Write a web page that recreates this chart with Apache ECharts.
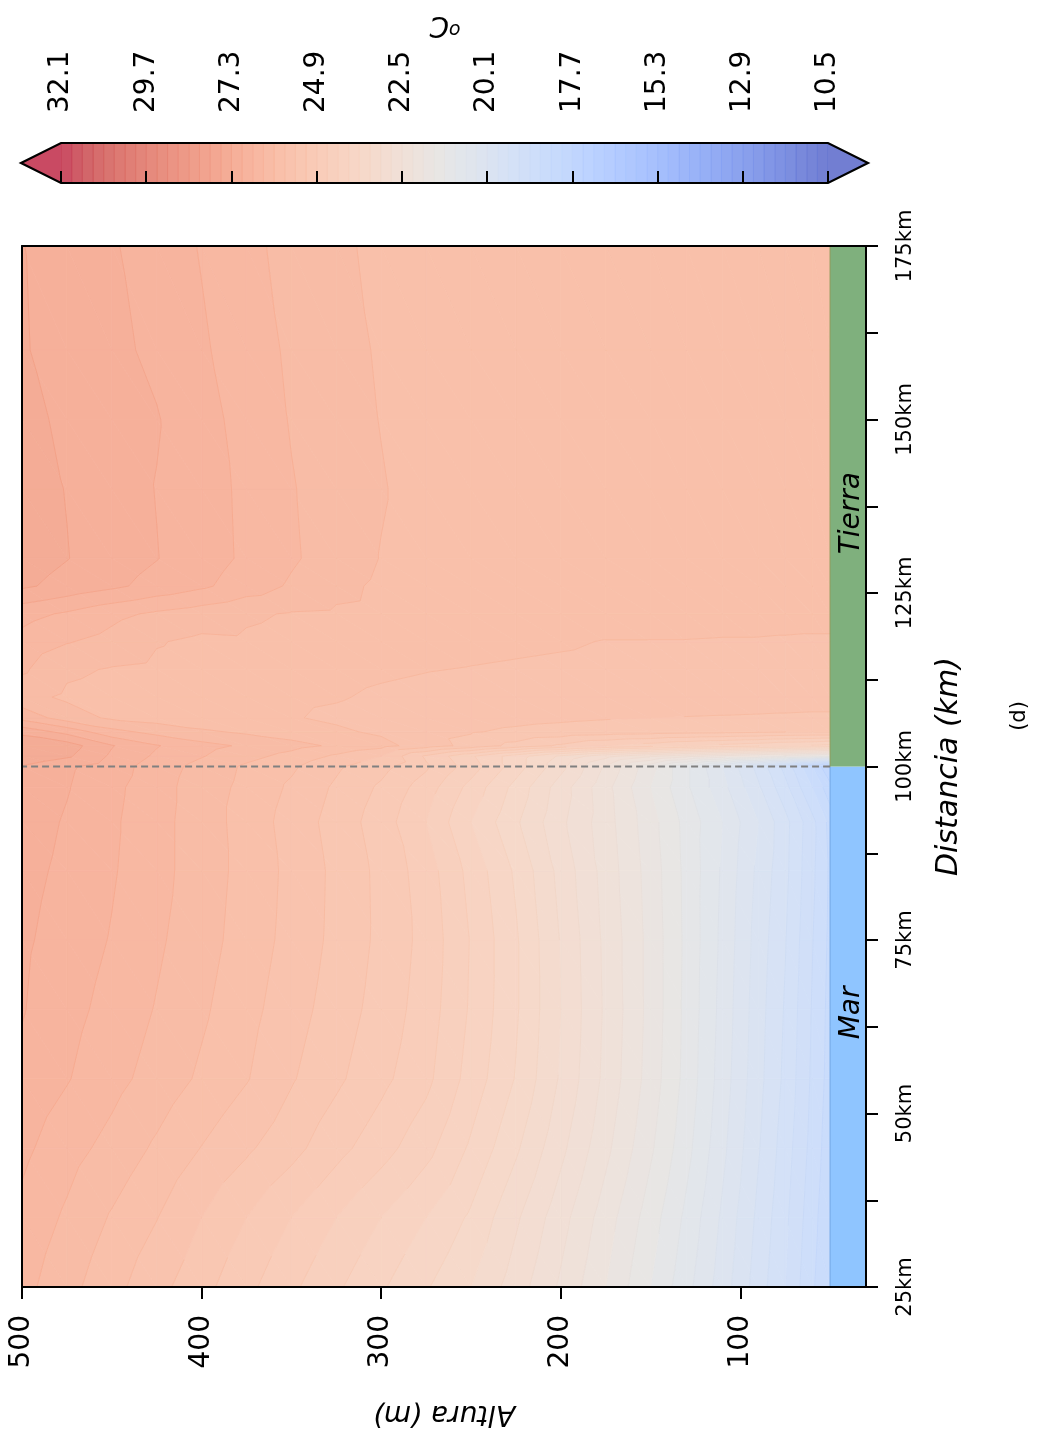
<!DOCTYPE html>
<html><head><meta charset="utf-8">
<script src="https://cdn.jsdelivr.net/npm/echarts@6/dist/echarts.min.js"></script>
<style>html,body{margin:0;padding:0;background:#fff;}#c{width:1041px;height:1432px;}</style>
</head><body><div id="c"></div><script>
// ---------------- data ----------------
const distanceKm = [25,35,45,55,65,75,85,92,97,100,101.5,103,105,107,110,114,118,122,126,130,140,150,160,175];
const altitudeM = [50,60,75,90,110,130,150,175,200,225,250,275,300,325,350,375,400,425,450,475,500];
// temperature (°C) per altitude row, one value per distance column
const t050 = [18.3,18.35,18.42,18.48,18.5,18.53,18.55,18.5,18.1, 17.7,21.5,23.9,25.2,25.45,25.62,25.68,25.76,25.9, 25.93,25.94,25.95,25.95,25.94,25.93];
const t060 = [18.65,18.72,18.8,18.85,18.88,18.92,18.97,19.0,18.6, 18.3,21.6,23.95,25.2,25.45,25.62,25.68,25.76,25.9, 25.93,25.94,25.95,25.95,25.94,25.93];
const t075 = [19.2,19.27,19.35,19.43,19.47,19.52,19.58,19.6,19.3, 19.1,21.75,24.0,25.22,25.46,25.63,25.69,25.77,25.9, 25.93,25.94,25.95,25.95,25.94,25.93];
const t090 = [19.65,19.73,19.83,19.9,19.93,19.97,20.03,20.1,19.85, 19.7,21.9,24.1,25.25,25.47,25.63,25.7,25.78,25.9, 25.93,25.94,25.95,25.95,25.94,25.93];
const t110 = [20.25,20.35,20.48,20.56,20.6,20.63,20.66,20.7,20.5, 20.4,22.1,24.2,25.28,25.48,25.64,25.7,25.78,25.91, 25.93,25.94,25.95,25.95,25.94,25.93];
const t130 = [20.8,20.93,21.1,21.2,21.22,21.23,21.22,21.2,21.05, 21.05,22.3,24.3,25.3,25.49,25.64,25.71,25.79,25.92, 25.94,25.94,25.95,25.95,25.94,25.94];
const t150 = [21.3,21.45,21.65,21.77,21.8,21.8,21.77,21.72,21.6, 21.7,22.55,24.45,25.33,25.5,25.65,25.72,25.79,25.93, 25.94,25.95,25.95,25.95,25.95,25.94];
const t175 = [21.9,22.05,22.28,22.42,22.45,22.43,22.38,22.33,22.3, 22.45,22.9,24.6,25.36,25.52,25.66,25.73,25.79,25.94, 25.95,25.95,25.96,25.96,25.95,25.95];
const t200 = [22.45,22.62,22.88,23.06,23.1,23.08,23.0,22.87,22.95, 23.2,23.35,24.85,25.4,25.55,25.67,25.75,25.83,25.95, 25.96,25.96,25.96,25.96,25.96,25.95];
const t225 = [22.95,23.15,23.45,23.68,23.74,23.74,23.65,23.45,23.6, 23.85,23.85,25.1,25.45,25.58,25.68,25.77,25.85,25.96, 25.97,25.97,25.97,25.97,25.96,25.96];
const t250 = [23.4,23.65,23.95,24.18,24.26,24.28,24.2,24.0,24.2, 24.45,24.35,25.4,25.52,25.62,25.7,25.79,25.87,25.98, 25.97,25.98,25.98,25.97,25.97,25.96];
const t275 = [23.73,24.0,24.4,24.68,24.76,24.8,24.75,24.6,24.75, 24.95,24.85,25.65,25.6,25.66,25.73,25.81,25.9,26.0, 25.98,25.99,25.99,25.98,25.97,25.96];
const t300 = [24.04,24.3,24.72,24.98,25.08,25.13,25.12,25.05,25.15, 25.3,25.5,25.9,25.75,25.7,25.76,25.84,25.93,26.03, 26.05,26.09,26.12,26.09,26.07,26.04];
const t325 = [24.35,24.6,25.0,25.26,25.36,25.42,25.43,25.38,25.45, 25.55,25.75,26.05,25.85,25.75,25.82,25.88,25.97,26.06, 26.18,26.26,26.25,26.23,26.2,26.15];
const t350 = [24.66,24.9,25.3,25.53,25.63,25.7,25.72,25.68,25.75, 25.85,26.0,26.2,25.95,25.82,25.85,25.92,26.02,26.08, 26.36,26.44,26.42,26.38,26.35,26.3];
const t375 = [24.98,25.2,25.55,25.82,25.9,25.97,26.0,25.98,26.02, 26.05,26.2,26.35,26.05,25.85,25.88,25.96,26.06,26.14, 26.56,26.65,26.64,26.6,26.55,26.48];
const t400 = [25.3,25.5,25.79,26.05,26.15,26.22,26.25,26.25,26.25, 26.3,26.42,26.5,26.15,25.9,25.92,26.0,26.04,26.25, 26.75,26.83,26.82,26.8,26.74,26.68];
const t425 = [25.6,25.81,26.05,26.28,26.38,26.45,26.5,26.5,26.52, 26.55,26.65,26.72,26.3,25.97,25.96,26.04,26.12,26.35, 26.9,27.01,26.99,27.02,26.93,26.86];
const t450 = [25.9,26.07,26.3,26.5,26.6,26.68,26.73,26.75,26.78, 26.85,26.95,27.02,26.5,26.05,26.0,26.08,26.3,26.48, 27.06,27.15,27.15,27.13,27.08,27.03];
const t475 = [26.2,26.35,26.52,26.72,26.8,26.87,26.93,26.97,27.02, 27.05,27.35,27.45,26.9,26.25,26.05,26.15,26.42,26.66, 27.2,27.31,27.29,27.26,27.21,27.16];
const t500 = [26.5,26.62,26.77,26.92,27.02,27.05,27.1,27.15,27.2, 27.28,27.55,27.6,27.2,26.6,26.2,26.45,26.6,26.8, 27.35,27.45,27.42,27.36,27.32,27.31];
const tempRows = [t050,t060,t075,t090,t110,t130,t150,t175,t200,t225,t250,t275,t300,t325,t350,t375,t400,t425,t450,t475,t500];

const colorbarTicks = [32.1,29.7,27.3,24.9,22.5,20.1,17.7,15.3,12.9,10.5];
const altitudeTicks = [100,200,300,400,500];
const distanceLabelTicks = [25,50,75,100,125,150,175];
const distanceMinorTicks = [25,37.5,50,62.5,75,87.5,100,112.5,125,137.5,150,162.5,175];
const surfaceNames = ['Mar','Tierra'];
const surfaceFromKm = [25,100];
const surfaceToKm = [100,175];
const surfaceLabelKm = [64.5,136.5];
const coastKm = 100;

// ---------------- colour scale ----------------
const LEVEL_MIN = 10.5, LEVEL_MAX = 32.1, LEVEL_STEP = 0.3;
const NBANDS = Math.round((LEVEL_MAX - LEVEL_MIN) / LEVEL_STEP); // 72
function levelAt(k){ return Math.round((LEVEL_MIN + k*LEVEL_STEP)*1000)/1000; }
const CW = [[0.2298057,0.298717966,0.753683153],[0.26623388,0.353094838,0.801466763],[0.30386891,0.406535296,0.84495867],[0.342804478,0.458757618,0.883725899],[0.38301334,0.50941904,0.917387822],[0.424369608,0.558148092,0.945619588],[0.46666708,0.604562568,0.968154911],[0.509635204,0.648280772,0.98478814],[0.552953156,0.688929332,0.995375608],[0.596262162,0.726149107,0.999836203],[0.639176211,0.759599947,0.998151185],[0.681291281,0.788964712,0.990363227],[0.722193294,0.813952739,0.976574709],[0.761464949,0.834302879,0.956945269],[0.798691636,0.849786142,0.931688648],[0.833466556,0.860207984,0.901068838],[0.865395197,0.86541021,0.865395561],[0.897787179,0.848937047,0.820880546],[0.924127593,0.827384882,0.774508472],[0.944468518,0.800927443,0.726736146],[0.958852946,0.769767752,0.678007945],[0.96732803,0.734132809,0.628751763],[0.969954137,0.694266682,0.579375448],[0.966811177,0.650421156,0.530263762],[0.958003065,0.602842431,0.481775914],[0.943660866,0.551750968,0.434243684],[0.923944917,0.49730856,0.387970225],[0.89904617,0.439559467,0.343229596],[0.869186849,0.378313092,0.300267182],[0.834620542,0.312874446,0.259301199],[0.795631745,0.24128379,0.220525627],[0.752534934,0.157246067,0.184115123],[0.705673158,0.01555616,0.150232812]];
function coolwarm(t){
  t = Math.max(0, Math.min(1, t));
  const f = t*32, i = Math.min(31, Math.floor(f)), r = f - i;
  const a = CW[i], b = CW[i+1];
  return [a[0]+(b[0]-a[0])*r, a[1]+(b[1]-a[1])*r, a[2]+(b[2]-a[2])*r];
}
function blend(c, alpha){
  const v = c.map(x => Math.round(255*(x*alpha + (1-alpha))));
  return 'rgb(' + v.join(',') + ')';
}
const FILL_ALPHA = 0.72, LINE_ALPHA = 0.86;
const bandFill = [], bandLine = [];
for (let k = 0; k < NBANDS; k++){
  const c = coolwarm((k+0.5)/NBANDS);
  bandFill.push(blend(c, FILL_ALPHA));
  bandLine.push(blend(c, LINE_ALPHA));
}
const underFill = blend(coolwarm(0), FILL_ALPHA), overFill = blend(coolwarm(1), FILL_ALPHA);
function bandIndex(v){ return Math.floor((v - LEVEL_MIN)/LEVEL_STEP + 1e-9); }
function colorOfBand(k){ return k < 0 ? underFill : (k >= NBANDS ? overFill : bandFill[k]); }

// ---------------- contouring helpers ----------------
function clip(poly, lvl, above){
  const out = [];
  for (let i = 0; i < poly.length; i++){
    const a = poly[i], b = poly[(i+1) % poly.length];
    const ina = above ? a[2] >= lvl : a[2] <= lvl;
    const inb = above ? b[2] >= lvl : b[2] <= lvl;
    if (ina) out.push(a);
    if (ina !== inb){
      const t = (lvl - a[2])/(b[2] - a[2]);
      out.push([a[0]+t*(b[0]-a[0]), a[1]+t*(b[1]-a[1]), lvl]);
    }
  }
  return out;
}
function cellTriangles(i, j){
  const P = (ii, jj) => [altitudeM[ii], distanceKm[jj], tempRows[ii][jj]];
  const A = P(i,j), B = P(i,j+1), C = P(i+1,j+1), D = P(i+1,j);
  return [[A,B,C],[A,C,D]];
}
const cells = [];
for (let i = 0; i < altitudeM.length-1; i++)
  for (let j = 0; j < distanceKm.length-1; j++)
    cells.push([(altitudeM[i]+altitudeM[i+1])/2, (distanceKm[j]+distanceKm[j+1])/2, i, j]);

function renderFill(params, api){
  const d = cells[params.dataIndex];
  const children = [];
  cellTriangles(d[2], d[3]).forEach(tri => {
    const vs = tri.map(p => p[2]);
    const k0 = bandIndex(Math.min(...vs)), k1 = bandIndex(Math.max(...vs));
    for (let k = k0; k <= k1; k++){
      let poly = tri;
      if (k > k0) poly = clip(poly, levelAt(k), true);
      if (k < k1) poly = clip(poly, levelAt(k+1), false);
      if (poly.length < 3) continue;
      const pts = poly.map(p => api.coord([p[0], p[1]]));
      const col = colorOfBand(k);
      children.push({type:'polygon', shape:{points:pts}, style:{fill:col, stroke:col, lineWidth:0.8}, silent:true});
    }
  });
  return {type:'group', children};
}
function renderLines(params, api){
  const d = cells[params.dataIndex];
  const children = [];
  cellTriangles(d[2], d[3]).forEach(tri => {
    const vs = tri.map(p => p[2]);
    const k0 = bandIndex(Math.min(...vs)), k1 = bandIndex(Math.max(...vs));
    for (let k = k0+1; k <= k1; k++){
      const L = levelAt(k);
      const pts = [];
      for (let e = 0; e < 3; e++){
        const a = tri[e], b = tri[(e+1)%3];
        if ((a[2]-L)*(b[2]-L) < 0){
          const t = (L-a[2])/(b[2]-a[2]);
          pts.push(api.coord([a[0]+t*(b[0]-a[0]), a[1]+t*(b[1]-a[1])]));
        }
      }
      if (pts.length === 2){
        const c = coolwarm(Math.min(1, Math.max(0, k/NBANDS)));
        children.push({type:'line', shape:{x1:pts[0][0], y1:pts[0][1], x2:pts[1][0], y2:pts[1][1]}, style:{stroke:blend(c, LINE_ALPHA), lineWidth:0.8}, silent:true});
      }
    }
  });
  return {type:'group', children};
}

// ---------------- chart ----------------
const FONT = 'DejaVu Sans';
const chart = echarts.init(document.getElementById('c'), null, {renderer:'canvas'});
const bandData = [];
for (let k = 0; k < NBANDS; k++) bandData.push([levelAt(k), levelAt(k+1), k]);

const option = {
  backgroundColor:'#fff',
  animation:false,
  grid:[
    {left:22, top:246, width:844, height:1041, containLabel:false},
    {left:61, top:143, width:767, height:40, containLabel:false}
  ],
  xAxis:[
    {gridIndex:0, type:'value', min:30, max:500, inverse:true, position:'bottom', z:10,
     axisLine:{show:true, onZero:false, lineStyle:{color:'#000', width:2}},
     axisTick:{show:true, customValues:altitudeTicks, length:12, lineStyle:{color:'#000', width:2}},
     axisLabel:{show:true, customValues:altitudeTicks, rotate:90, margin:28, fontSize:28, color:'#000', fontFamily:FONT},
     splitLine:{show:false},
     name:'Altura (m)', nameLocation:'middle', nameGap:112, nameRotate:180,
     nameTextStyle:{fontSize:28, fontStyle:'italic', color:'#000', fontFamily:FONT}},
    {gridIndex:0, type:'value', min:30, max:500, inverse:true, position:'top', z:10,
     axisLine:{show:true, onZero:false, lineStyle:{color:'#000', width:2}},
     axisTick:{show:false}, axisLabel:{show:false}, splitLine:{show:false}},
    {gridIndex:1, type:'value', min:LEVEL_MIN, max:LEVEL_MAX, inverse:true, position:'top', z:10,
     axisLine:{show:false},
     axisTick:{show:true, customValues:colorbarTicks, length:12, lineStyle:{color:'#000', width:2}},
     axisLabel:{show:true, customValues:colorbarTicks, rotate:90, margin:30, fontSize:28, color:'#000', fontFamily:FONT,
       formatter:v => Number(v).toFixed(1)},
     splitLine:{show:false}}
  ],
  yAxis:[
    {gridIndex:0, type:'value', min:25, max:175, position:'right', z:10,
     axisLine:{show:true, onZero:false, lineStyle:{color:'#000', width:2}},
     axisTick:{show:true, customValues:distanceMinorTicks, length:12, lineStyle:{color:'#000', width:2}},
     axisLabel:{show:false},
     splitLine:{show:false},
     name:'Distancia (km)', nameLocation:'middle', nameGap:68, nameRotate:90,
     nameTextStyle:{fontSize:30, fontStyle:'italic', color:'#000', fontFamily:FONT}},
    {gridIndex:0, type:'value', min:25, max:175, position:'left', z:10,
     axisLine:{show:true, onZero:false, lineStyle:{color:'#000', width:2}},
     axisTick:{show:false}, axisLabel:{show:false}, splitLine:{show:false}},
    {gridIndex:1, type:'value', min:0, max:1, show:false}
  ],
  series:[
    {type:'custom', name:'fill', xAxisIndex:0, yAxisIndex:0, z:1, silent:true, clip:true,
     data:cells, encode:{x:0, y:1}, renderItem:renderFill},
    {type:'custom', name:'lines', xAxisIndex:0, yAxisIndex:0, z:2, silent:true, clip:true,
     data:cells, encode:{x:0, y:1}, renderItem:renderLines},
    {type:'custom', name:'surface', xAxisIndex:0, yAxisIndex:0, z:3, silent:true,
     data:surfaceNames.map((n,i) => [40, (surfaceFromKm[i]+surfaceToKm[i])/2, i]), encode:{x:0, y:1},
     renderItem:(params, api) => {
       const i = params.dataIndex;
       const p0 = api.coord([50, surfaceToKm[i]]), p1 = api.coord([30, surfaceFromKm[i]]);
       const fill = i === 0 ? '#8fc5ff' : '#7fb07d';
       const edge = i === 0 ? '#6fa6e6' : '#8a9a5a';
       const lp = api.coord([38, surfaceLabelKm[i]]);
       return {type:'group', children:[
         {type:'rect', shape:{x:p0[0], y:p0[1], width:p1[0]-p0[0], height:p1[1]-p0[1]}, style:{fill:fill}},
         {type:'line', shape:{x1:p0[0], y1:p0[1], x2:p0[0], y2:p1[1]}, style:{stroke:edge, lineWidth:1}},
         {type:'text', x:lp[0], y:lp[1], rotation:Math.PI/2,
          style:{text:surfaceNames[i], fontSize:28, fontStyle:'italic', fontFamily:FONT, fill:'#000', align:'center', verticalAlign:'middle'}}
       ]};
     }},
    {type:'custom', name:'distanceLabels', xAxisIndex:0, yAxisIndex:0, z:10, silent:true, clip:false,
     data:distanceLabelTicks.map(v => [30, v]), encode:{x:0, y:1},
     renderItem:(params, api) => {
       const v = distanceLabelTicks[params.dataIndex];
       const p = api.coord([30, v]);
       return {type:'text', x:p[0] + 29, y:p[1], rotation:Math.PI/2,
         style:{text:v + 'km', fontSize:21, fontFamily:FONT, fill:'#000', align:'center', verticalAlign:'top'}};
     }},
    {type:'line', name:'coast', xAxisIndex:0, yAxisIndex:0, z:4, silent:true, symbol:'none',
     data:[[50, coastKm],[500, coastKm]],
     lineStyle:{color:'#808080', width:1.8, type:[7,4]}},
    {type:'custom', name:'colorbar', xAxisIndex:2, yAxisIndex:2, z:2, silent:true,
     data:bandData, encode:{x:[0,1]},
     renderItem:(params, api) => {
       const d = bandData[params.dataIndex];
       const a = api.coord([d[1], 1]), b = api.coord([d[0], 0]);
       return {type:'rect', shape:{x:a[0], y:a[1], width:b[0]-a[0], height:b[1]-a[1]},
               style:{fill:bandFill[d[2]], stroke:bandLine[d[2]], lineWidth:0.6}};
     }},
    {type:'custom', name:'colorbarExtend', xAxisIndex:2, yAxisIndex:2, z:3, silent:true,
     data:[[LEVEL_MIN, 0.5]], encode:{x:0, y:1},
     renderItem:(params, api) => {
       const tl = api.coord([LEVEL_MAX, 1]), bl = api.coord([LEVEL_MAX, 0]);
       const tr = api.coord([LEVEL_MIN, 1]), br = api.coord([LEVEL_MIN, 0]);
       const midY = (tl[1]+bl[1])/2, ext = 40;
       const lApex = [tl[0]-ext, midY], rApex = [tr[0]+ext, midY];
       return {type:'group', children:[
         {type:'polygon', shape:{points:[tl, bl, lApex]}, style:{fill:overFill}},
         {type:'polygon', shape:{points:[tr, br, rApex]}, style:{fill:underFill}},
         {type:'polygon', shape:{points:[lApex, tl, tr, rApex, br, bl]}, style:{fill:'none', stroke:'#000', lineWidth:2.2}}
       ]};
     }}
  ],
  graphic:[
    {type:'text', x:445, y:24, rotation:Math.PI, z:10,
     style:{text:'{s|o}C', fontSize:28, fontStyle:'italic', fontFamily:FONT, fill:'#000', align:'center', verticalAlign:'middle',
       rich:{s:{fontSize:19, fontStyle:'italic', fontFamily:FONT, verticalAlign:'top', padding:[0,0,10,0]}}}},
    {type:'text', x:1020, y:716, rotation:Math.PI/2, z:10,
     style:{text:'(d)', fontSize:21, fontFamily:FONT, fill:'#000', align:'center', verticalAlign:'middle'}}
  ]
};
chart.setOption(option);
</script></body></html>
